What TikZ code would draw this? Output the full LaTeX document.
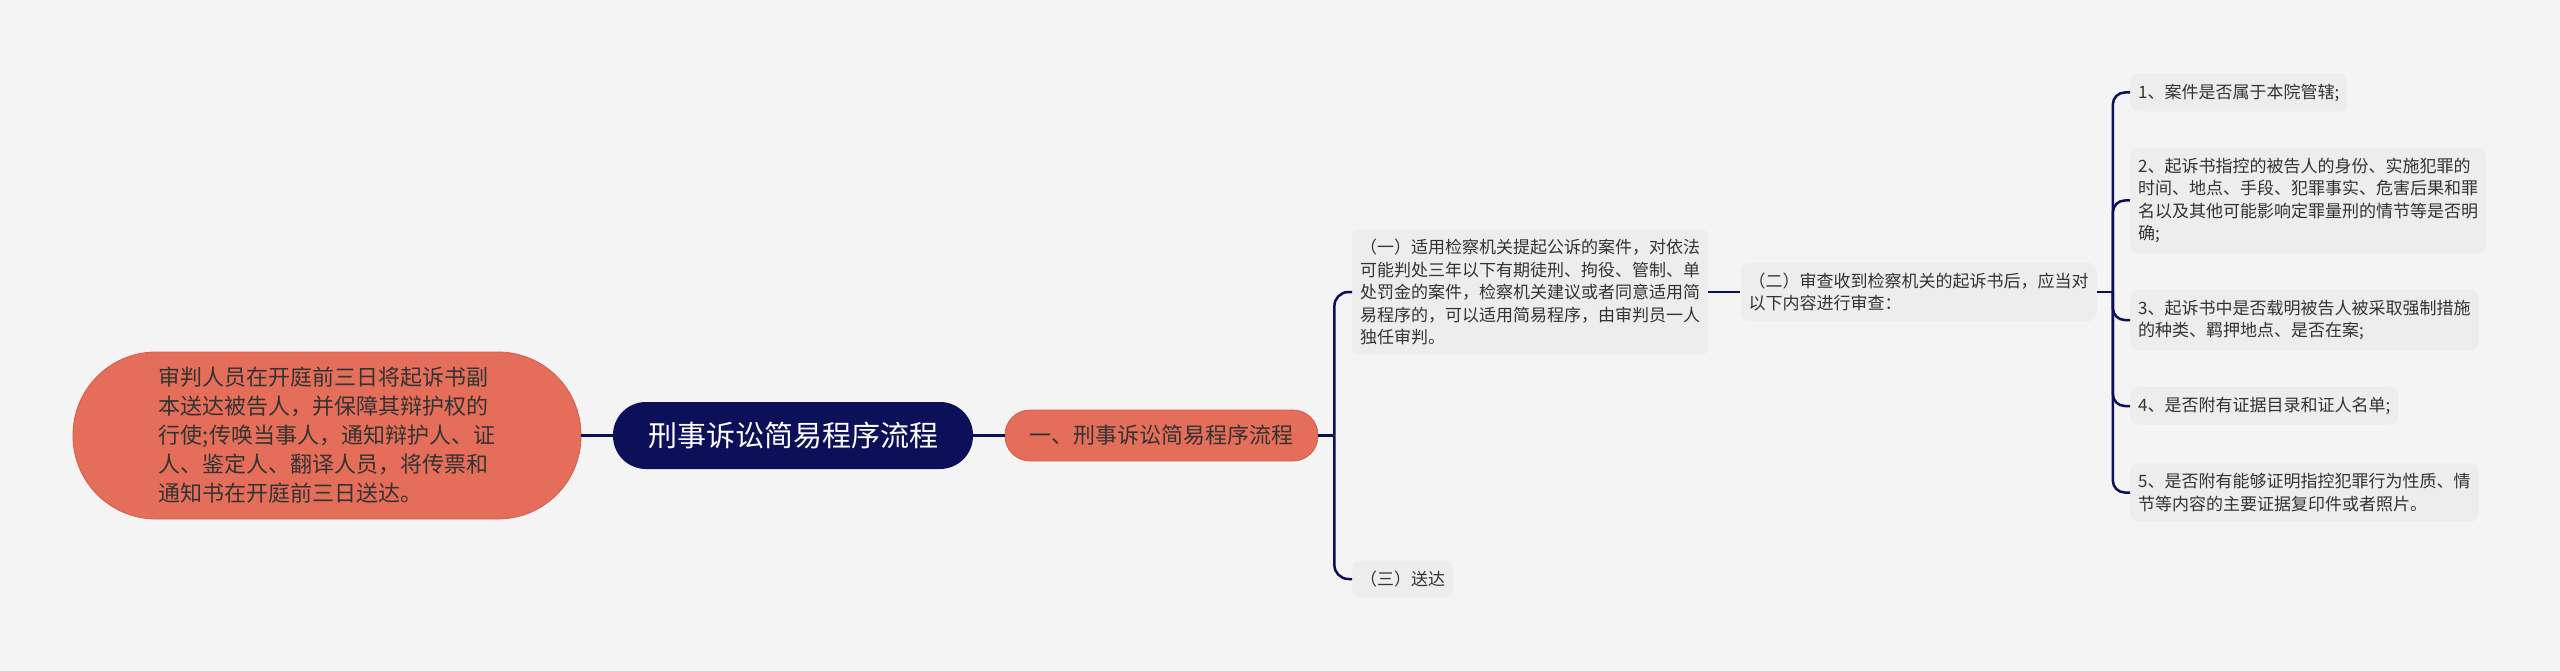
\documentclass[tikz,border=0pt]{standalone}
\usepackage{fontspec}
\newfontfamily\cjk{Noto Sans CJK SC}
\usetikzlibrary{positioning}
\definecolor{navy}{HTML}{0C1058}
\definecolor{salmon}{HTML}{E56E5A}
\definecolor{salmonedge}{HTML}{D05E4B}
\definecolor{leafgray}{HTML}{EDEDED}
\definecolor{bgc}{HTML}{F4F4F4}
\definecolor{ink}{HTML}{333333}
\tikzstyle{topic} = [rectangle, fill=navy, text=white, minimum width=360pt,
    minimum height=67pt, rounded corners=33pt, font=\cjk\fontsize{29}{34}\selectfont]
\tikzstyle{branch} = [rectangle, draw=salmonedge, line width=0.8pt, fill=salmon, text=ink,
    font=\cjk\fontsize{22}{29}\selectfont]
\tikzstyle{leaf} = [rectangle, fill=leafgray, text=ink, align=left, anchor=west,
    inner xsep=8pt, inner ysep=10pt, rounded corners=8pt, font=\cjk\fontsize{17}{22.5}\selectfont]
\tikzstyle{line} = [draw=navy, line width=2.5pt]

\begin{document}
\begin{tikzpicture}[x=1pt, y=-1pt, node distance=466pt]
    \fill[bgc] (0,0) rectangle (2560,671);
    \useasboundingbox (0,0) rectangle (2560,671);
   % Place nodes
    \node [branch, align=left, minimum width=508pt, minimum height=167pt, rounded corners=83pt] (pre) at (327,435.5)
      {审判人员在开庭前三日将起诉书副\\本送达被告人，并保障其辩护权的\\行使;传唤当事人，通知辩护人、证\\人、鉴定人、翻译人员，将传票和\\通知书在开庭前三日送达。};
    \node [topic, right of=pre] (root) {刑事诉讼简易程序流程};
    \node [branch, right of=root, node distance=368.5pt, minimum width=313pt, minimum height=51pt, rounded corners=25pt] (sec) {一、刑事诉讼简易程序流程};
    \node [leaf] (q1) at (1352,292)
      {（一）适用检察机关提起公诉的案件，对依法\\可能判处三年以下有期徒刑、拘役、管制、单\\处罚金的案件，检察机关建议或者同意适用简\\易程序的，可以适用简易程序，由审判员一人\\独任审判。};
    \node [leaf] (q3) at (1352,579) {（三）送达};
    \node [leaf, right=32pt of q1] (q2) {（二）审查收到检察机关的起诉书后，应当对\\以下内容进行审查：};
    \node [leaf] (i1) at (2130,92.5) {1、案件是否属于本院管辖;};
    \node [leaf] (i2) at (2130,200.5)
      {2、起诉书指控的被告人的身份、实施犯罪的\\时间、地点、手段、犯罪事实、危害后果和罪\\名以及其他可能影响定罪量刑的情节等是否明\\确;};
    \node [leaf] (i3) at (2130,320) {3、起诉书中是否载明被告人被采取强制措施\\的种类、羁押地点、是否在案;};
    \node [leaf] (i4) at (2130,406) {4、是否附有证据目录和证人名单;};
    \node [leaf] (i5) at (2130,492.5) {5、是否附有能够证明指控犯罪行为性质、情\\节等内容的主要证据复印件或者照片。};
   % Draw edges
    \path [line] (pre) -- (root);
    \path [line] (root) -- (sec);
    \path [line] (sec.east) -- ++(16,0) coordinate (fork1);
    \path [line, rounded corners=14pt] (fork1) |- (q1.west);
    \path [line, rounded corners=14pt] (fork1) |- (q3.west);
    \path [line] (q1.east) -- (q2.west);
    \path [line] (q2.east) -- ++(16,0) coordinate (fork2);
    \foreach \i in {1,...,5}
      \path [line, rounded corners=12pt] (fork2) |- (i\i.west);
\end{tikzpicture}
\end{document}
